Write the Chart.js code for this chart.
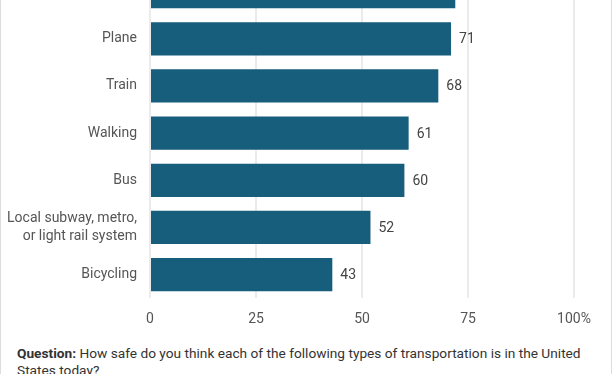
<!DOCTYPE html>
<html>
<head>
<meta charset="utf-8">
<script src="https://cdn.jsdelivr.net/npm/chart.js@4"></script>
<style>
  html, body { margin: 0; padding: 0; background: #fff; overflow: hidden; }
  body { width: 612px; height: 374px; position: relative; font-family: Roboto, sans-serif; }
  .frame { position: absolute; left: 0; top: -80px; width: 610px; height: 520px; border: 1px solid #dcdcdc; }
  .chartBox { position: absolute; left: 0; top: -54px; width: 612px; height: 395px; }
  .note { position: absolute; left: 17px; top: 345px; width: 580px; font-size: 13.7px; line-height: 16.5px; color: #333; }
  .note b { font-weight: 700; }
</style>
</head>
<body>
<div class="frame"></div>
<div class="chartBox"><canvas id="chart"></canvas></div>
<div class="note"><b>Question:</b> How safe do you think each of the following types of transportation is in the United States today?</div>
<script>
// ── Data ──
const categories = ['Car', 'Plane', 'Train', 'Walking', 'Bus', ['Local subway, metro,', 'or light rail system'], 'Bicycling'];
const safeShare = [72, 71, 68, 61, 60, 52, 43];
const xTicks = [0, 25, 50, 75, 100];

const barColor = '#175d7c';
const textColor = '#555555';

// value labels at the end of each bar
const endLabels = {
    id: 'endLabels',
    afterDatasetsDraw(chart) {
        const ctx = chart.ctx;
        const meta = chart.getDatasetMeta(0);
        ctx.save();
        ctx.font = '14px Roboto, sans-serif';
        ctx.fillStyle = '#444';
        ctx.textAlign = 'left';
        ctx.textBaseline = 'middle';
        meta.data.forEach((bar, i) => {
            ctx.fillText(String(safeShare[i]), bar.x + 8, bar.y + 1);
        });
        ctx.restore();
    }
};

new Chart(document.getElementById('chart'), {
    type: 'bar',
    data: {
        labels: categories,
        datasets: [{
            data: safeShare,
            backgroundColor: barColor,
            borderWidth: 0,
            categoryPercentage: 0.705,
            barPercentage: 1
        }]
    },
    options: {
        indexAxis: 'y',
        responsive: true,
        maintainAspectRatio: false,
        animation: false,
        layout: { padding: { left: 0, right: 38, top: 0, bottom: 0 } },
        plugins: { legend: { display: false }, tooltip: { enabled: false } },
        scales: {
            x: {
                min: 0, max: 100,
                afterBuildTicks: axis => { axis.ticks = xTicks.map(v => ({ value: v })); },
                grid: { color: '#ebebeb', lineWidth: 2, drawTicks: false },
                border: { display: false },
                ticks: {
                    color: textColor, padding: 13,
                    font: { family: 'Roboto', size: 14 },
                    callback: v => v === 100 ? '100%' : v
                }
            },
            y: {
                grid: { display: false, drawTicks: false },
                border: { display: false },
                ticks: {
                    color: textColor, padding: 13,
                    font: { family: 'Roboto', size: 14, lineHeight: 1.3 }
                },
                afterFit: axis => { axis.width = 150; }
            }
        }
    },
    plugins: [endLabels]
});
</script>
</body>
</html>
